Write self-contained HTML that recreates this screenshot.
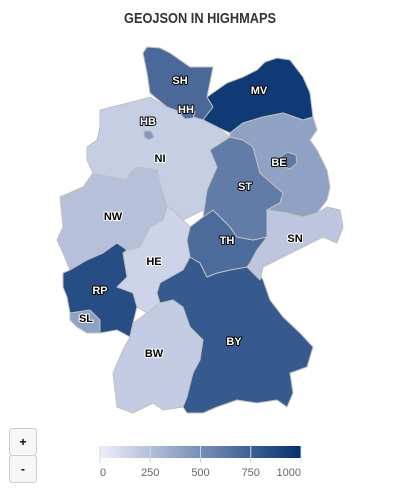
<!DOCTYPE html>
<html><head><meta charset="utf-8"><style>
html,body{margin:0;padding:0;background:#fff;}
svg{display:block;font-family:"Liberation Sans",sans-serif;}
.lbl{font-size:11px;font-weight:bold;paint-order:stroke;stroke-linejoin:round;}
</style></head><body>
<svg id="chart" width="400" height="500" viewBox="0 0 400 500">
<text x="200" y="23" text-anchor="middle" font-size="15" font-weight="bold" fill="#333" textLength="152" lengthAdjust="spacingAndGlyphs">GEOJSON IN HIGHMAPS</text>
<g id="regions"></g>
<g id="labels"></g>
<g>
<rect x="9.5" y="428.5" width="27" height="27" rx="3" fill="#f7f7f7" stroke="#ccc"/>
<text x="23" y="446" text-anchor="middle" font-size="12" font-weight="bold" fill="#000">+</text>
</g>
<g>
<rect x="9.5" y="455.5" width="27" height="27" rx="3" fill="#f7f7f7" stroke="#ccc"/>
<text x="23" y="473" text-anchor="middle" font-size="12" font-weight="bold" fill="#000">-</text>
</g>
<defs><linearGradient id="lg" x1="0" x2="1" y1="0" y2="0"><stop offset="0" stop-color="#eeeefc"/><stop offset="1" stop-color="#03306f"/></linearGradient></defs>
<g id="legend">
<rect x="100" y="446" width="201" height="12" fill="url(#lg)"/>
</g>
</svg>
<script>
const codes = ['SH','MV','NI','NW','HE','RP','SL','BW','BY','TH','ST','BB','SN','HH','BE','HB'];
const values = [700, 950, 170, 240, 140, 850, 400, 180, 780, 690, 600, 400, 210, 680, 620, 460];
const tickValues = [0, 250, 500, 750, 1000];
const tickLabels = ['0','250','500','750','1000'];
const shapes = {
SH:[[147,47],[160,48],[170,53],[190,67],[213,67],[207,97],[213,107],[203,120],[193,117],[180,112],[167,107],[150,93],[147,73],[143,53]],
MV:[[207,97],[227,83],[243,77],[257,70],[265,62],[277,58],[290,60],[303,77],[310,93],[313,117],[303,120],[283,113],[263,117],[243,123],[230,133],[217,127],[203,120],[213,107]],
NI:[[100,110],[140,100],[150,97],[167,107],[180,112],[193,117],[203,120],[217,127],[230,137],[210,150],[217,167],[207,190],[210,207],[197,213],[183,220],[173,210],[167,207],[160,183],[157,170],[137,167],[130,173],[127,180],[110,177],[93,173],[87,160],[87,147],[97,140],[100,127]],
NW:[[93,173],[110,177],[127,180],[130,173],[137,167],[157,170],[160,183],[167,207],[163,220],[150,227],[140,247],[127,250],[117,243],[103,253],[87,260],[70,270],[63,253],[57,240],[63,227],[60,197],[83,187]],
HE:[[167,207],[173,210],[183,220],[190,227],[187,240],[190,257],[183,270],[160,283],[157,293],[160,303],[147,313],[137,307],[133,293],[117,287],[127,277],[123,253],[140,247],[150,227],[163,220]],
RP:[[117,243],[127,250],[123,253],[127,277],[117,287],[133,293],[137,307],[133,323],[130,337],[117,330],[100,333],[90,320],[70,313],[67,297],[63,287],[63,273],[70,270],[87,260],[103,253]],
SL:[[70,313],[90,310],[100,320],[100,333],[87,333],[77,327],[70,320]],
BW:[[133,323],[147,313],[160,303],[173,300],[183,307],[190,327],[203,340],[200,360],[193,373],[187,397],[183,407],[163,410],[153,403],[133,413],[117,407],[113,373],[123,350],[130,337]],
BY:[[160,283],[183,270],[190,257],[200,263],[207,277],[217,273],[230,270],[247,267],[257,270],[263,280],[270,300],[283,317],[300,333],[313,347],[307,367],[290,373],[293,393],[287,407],[277,400],[257,403],[237,400],[217,407],[203,413],[187,413],[183,407],[187,397],[193,373],[200,360],[203,340],[190,327],[183,307],[173,300],[160,303],[157,293]],
TH:[[187,240],[190,227],[203,217],[213,210],[230,227],[237,237],[253,240],[267,237],[257,250],[250,263],[247,267],[230,270],[217,273],[207,277],[200,263],[190,257]],
ST:[[210,150],[230,137],[243,140],[253,147],[260,173],[283,193],[280,203],[267,210],[267,237],[253,240],[237,237],[230,227],[213,210],[203,217],[207,190],[217,167]],
BB:[[230,133],[243,123],[263,117],[283,113],[303,120],[313,117],[317,130],[310,140],[317,150],[327,170],[330,187],[327,200],[317,213],[303,217],[287,213],[267,210],[280,203],[283,193],[260,173],[253,147],[243,140],[230,137]],
SN:[[267,210],[287,213],[303,217],[317,213],[327,207],[340,210],[343,227],[337,243],[323,237],[303,247],[283,257],[263,267],[260,280],[250,270],[247,267],[250,263],[257,250],[267,237]],
HH:[[182,110],[190,107],[195,112],[193,118],[185,119],[181,115]],
BE:[[280,157],[287,152],[296,155],[297,163],[290,169],[282,166]],
HB:[[144,131],[151,131],[154,137],[149,140],[144,137]]
};
const labelPos = {SH:[180,84],MV:[259,94],NI:[160,162],NW:[113,220],HE:[154,265],RP:[100,294],SL:[86,322],BW:[154,357],BY:[234,345],TH:[227,244],ST:[245,190],BB:null,SN:[295,242],HH:[186,113],BE:[279,166],HB:[148,125]};
const vmin=0,vmax=1000, c0=[238,238,252], c1=[3,48,111];
function colorOf(v){const t=Math.max(0,Math.min(1,(v-vmin)/(vmax-vmin)));return 'rgb('+c0.map((c,i)=>Math.round(c+(c1[i]-c)*t)).join(',')+')';}
function lx(v){return 100+(v-vmin)/(vmax-vmin)*201;}
const NS='http://www.w3.org/2000/svg';
const rg=document.getElementById('regions'), lg=document.getElementById('labels'), leg=document.getElementById('legend');
codes.forEach((c,i)=>{
 const p=document.createElementNS(NS,'polygon');
 p.setAttribute('points',shapes[c].map(q=>q.join(',')).join(' '));
 p.setAttribute('fill',colorOf(values[i]));
 p.setAttribute('stroke','#c0c0c0');p.setAttribute('stroke-width','1');p.setAttribute('stroke-linejoin','round');
 
 
 rg.appendChild(p);
 const lp=labelPos[c]; if(!lp) return;
 const t=document.createElementNS(NS,'text');
 t.setAttribute('x',lp[0]);t.setAttribute('y',lp[1]);t.setAttribute('text-anchor','middle');t.setAttribute('class','lbl');
 const dark=values[i]>450;
 t.setAttribute('fill',dark?'#fff':'#000');t.setAttribute('stroke',dark?'#000':'#fff');t.setAttribute('stroke-width','2');
 t.textContent=c==='BB'?'BB':c;
 
 
 lg.appendChild(t);
});
tickValues.forEach((v,i)=>{
 const l=document.createElementNS(NS,'line');
 l.setAttribute('x1',lx(v));l.setAttribute('x2',lx(v));l.setAttribute('y1',446);l.setAttribute('y2',463);
 l.setAttribute('stroke','#ccd6eb');l.setAttribute('stroke-width','1');
 
 
 leg.appendChild(l);
 const t=document.createElementNS(NS,'text');
 t.setAttribute('x',lx(v));t.setAttribute('y',476);
 t.setAttribute('text-anchor',i===0?'start':(i===tickValues.length-1?'end':'middle'));
 t.setAttribute('font-size','11');t.setAttribute('fill','#666');
 t.textContent=tickLabels[i];
 
 
 leg.appendChild(t);
});
</script>
</body></html>
